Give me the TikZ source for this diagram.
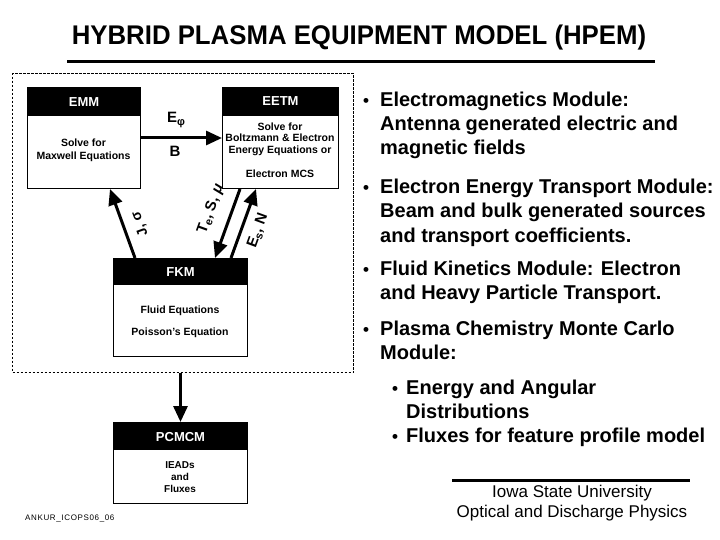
\documentclass[tikz,border=0pt]{standalone}
\usepackage{fontspec}
\setmainfont{Liberation Sans}
\usetikzlibrary{arrows.meta,calc}
\newcommand{\lsub}[1]{\raisebox{-2.5pt}{\fontsize{11}{11}\selectfont #1}}
\begin{document}
\begin{tikzpicture}[x=1pt,y=-1pt,
  modbox/.style={draw,line width=1pt,inner sep=0pt,anchor=north west},
  hdr/.style={font=\bfseries\fontsize{13}{13}\selectfont,text=white,inner sep=0pt},
  body/.style={font=\bfseries\fontsize{10.5}{12.5}\selectfont,align=center,inner sep=0pt},
  arr/.style={line width=3pt,-{Triangle[length=16pt,width=14pt]}},
  lbl/.style={font=\bfseries\fontsize{15}{15}\selectfont,inner sep=0pt},
  bul/.style={font=\bfseries\fontsize{20}{20}\selectfont,anchor=base west,inner sep=0pt},
  dot/.style={font=\bfseries\fontsize{17}{17}\selectfont,anchor=base,inner sep=0pt},
  rule/.style={line width=3pt}
]
\useasboundingbox (0,0) rectangle (720,540);

% title
\node[font=\bfseries\fontsize{27}{27}\selectfont,inner sep=0pt] (title) at (359,38)
  {\scalebox{0.955}[1]{HYBRID PLASMA EQUIPMENT MODEL (HPEM)}};
\coordinate (tl) at (67,62);
\coordinate (tr) at (655,62);
\draw[rule] (tl) -- (tr);

% dashed frame
\node[draw,line width=1.2pt,dash pattern=on 2.5pt off 1.5pt,anchor=north west,
      minimum width=341pt,minimum height=299pt,inner sep=0pt] (frame) at (12,73) {};

% EMM
\node[modbox,minimum width=113pt,minimum height=101pt] (emm) at (27,87) {};
\fill (emm.north west) rectangle ([yshift=-29pt]emm.north east);
\node[hdr] (emmh) at ([yshift=-15pt]emm.north) {EMM};
\node[body,font=\bfseries\fontsize{10.5}{13}\selectfont] (emmb) at (83.5,150) {Solve for\\Maxwell Equations};

% EETM
\node[modbox,minimum width=116pt,minimum height=101pt] (eetm) at (222,87) {};
\fill (eetm.north west) rectangle ([yshift=-29pt]eetm.north east);
\node[hdr] (eetmh) at ([yshift=-14pt]eetm.north) {EETM};
\node[body,font=\bfseries\fontsize{10.5}{11.5}\selectfont] (eetmb) at (280,139) {Solve for\\Boltzmann \& Electron\\Energy Equations or};
\node[body] (eetmc) at (280,174) {Electron MCS};

% FKM
\node[modbox,minimum width=134pt,minimum height=98pt] (fkm) at (113,258) {};
\fill (fkm.north west) rectangle ([yshift=-27pt]fkm.north east);
\node[hdr] (fkmh) at ([yshift=-14pt]fkm.north) {FKM};
\node[body] (fkm1) at (180,311) {Fluid Equations};
\node[body] (fkm2) at (180,333) {Poisson’s Equation};

% PCMCM
\node[modbox,minimum width=134pt,minimum height=81pt] (pcmcm) at (113,422) {};
\fill (pcmcm.north west) rectangle ([yshift=-28pt]pcmcm.north east);
\node[hdr] (pcmcmh) at ([yshift=-15pt]pcmcm.north) {PCMCM};
\node[body,font=\bfseries\fontsize{10}{12}\selectfont] (pcmcmb) at (180,477) {IEADs\\and\\Fluxes};

% connectors
\draw[arr] (emm.east) -- (eetm.west);
\node[lbl] (ephi) at (176,120) {E\lsub{φ}};
\node[lbl] (bl) at (175,151) {B};

\draw[arr] ([xshift=22pt]fkm.north west) -- ([xshift=83pt]emm.south west);
\node[lbl,font=\bfseries\fontsize{14}{14}\selectfont,rotate=110] (js) at (140,224) {J, σ};

\draw[arr] ([xshift=18pt]eetm.south west) -- ([xshift=102pt]fkm.north west);
\node[lbl,rotate=70] (tsm) at (211,209) {T\lsub{e}, S, {\itshape μ}};

\draw[arr] ([xshift=118pt]fkm.north west) -- ([xshift=34pt]eetm.south west);
\node[lbl,rotate=70] (esn) at (258,231) {E\lsub{s}, N};

\draw[arr] (frame.south -| pcmcm.north) -- (pcmcm.north);

% bullets
\node[dot] at (366,107) {•};
\node[bul] at (380,107) {Electromagnetics Module:};
\node[bul] at (380,131) {Antenna generated electric and};
\node[bul] at (380,155) {magnetic fields};
\node[dot] at (366,194) {•};
\node[bul] at (380,194) {Electron Energy Transport Module:};
\node[bul] at (380,218) {Beam and bulk generated sources};
\node[bul] at (380,242) {and transport coefficients.};
\node[dot] at (366,275) {•};
\node[bul] at (380,275) {Fluid Kinetics Module: Electron};
\node[bul] at (380,299) {and Heavy Particle Transport.};
\node[dot] at (366,335) {•};
\node[bul] at (380,335) {Plasma Chemistry Monte Carlo};
\node[bul] at (380,359) {Module:};
\node[dot] at (395,394) {•};
\node[bul] at (406,394) {Energy and Angular};
\node[bul] at (406,418) {Distributions};
\node[dot] at (395,442) {•};
\node[bul] at (406,442) {Fluxes for feature profile model};

% footer
\coordinate (fl) at (452,480);
\coordinate (fr) at (690,480);
\draw[rule] (fl) -- (fr);
\node[font=\fontsize{17}{20}\selectfont,align=center,inner sep=0pt] (isu) at (572,503)
  {Iowa State University\\Optical and Discharge Physics};
\node[font=\fontsize{8}{8}\selectfont\addfontfeatures{LetterSpace=8},anchor=west,inner sep=0pt] (ankur) at (25,518) {ANKUR\_ICOPS06\_06};
\end{tikzpicture}
\end{document}
